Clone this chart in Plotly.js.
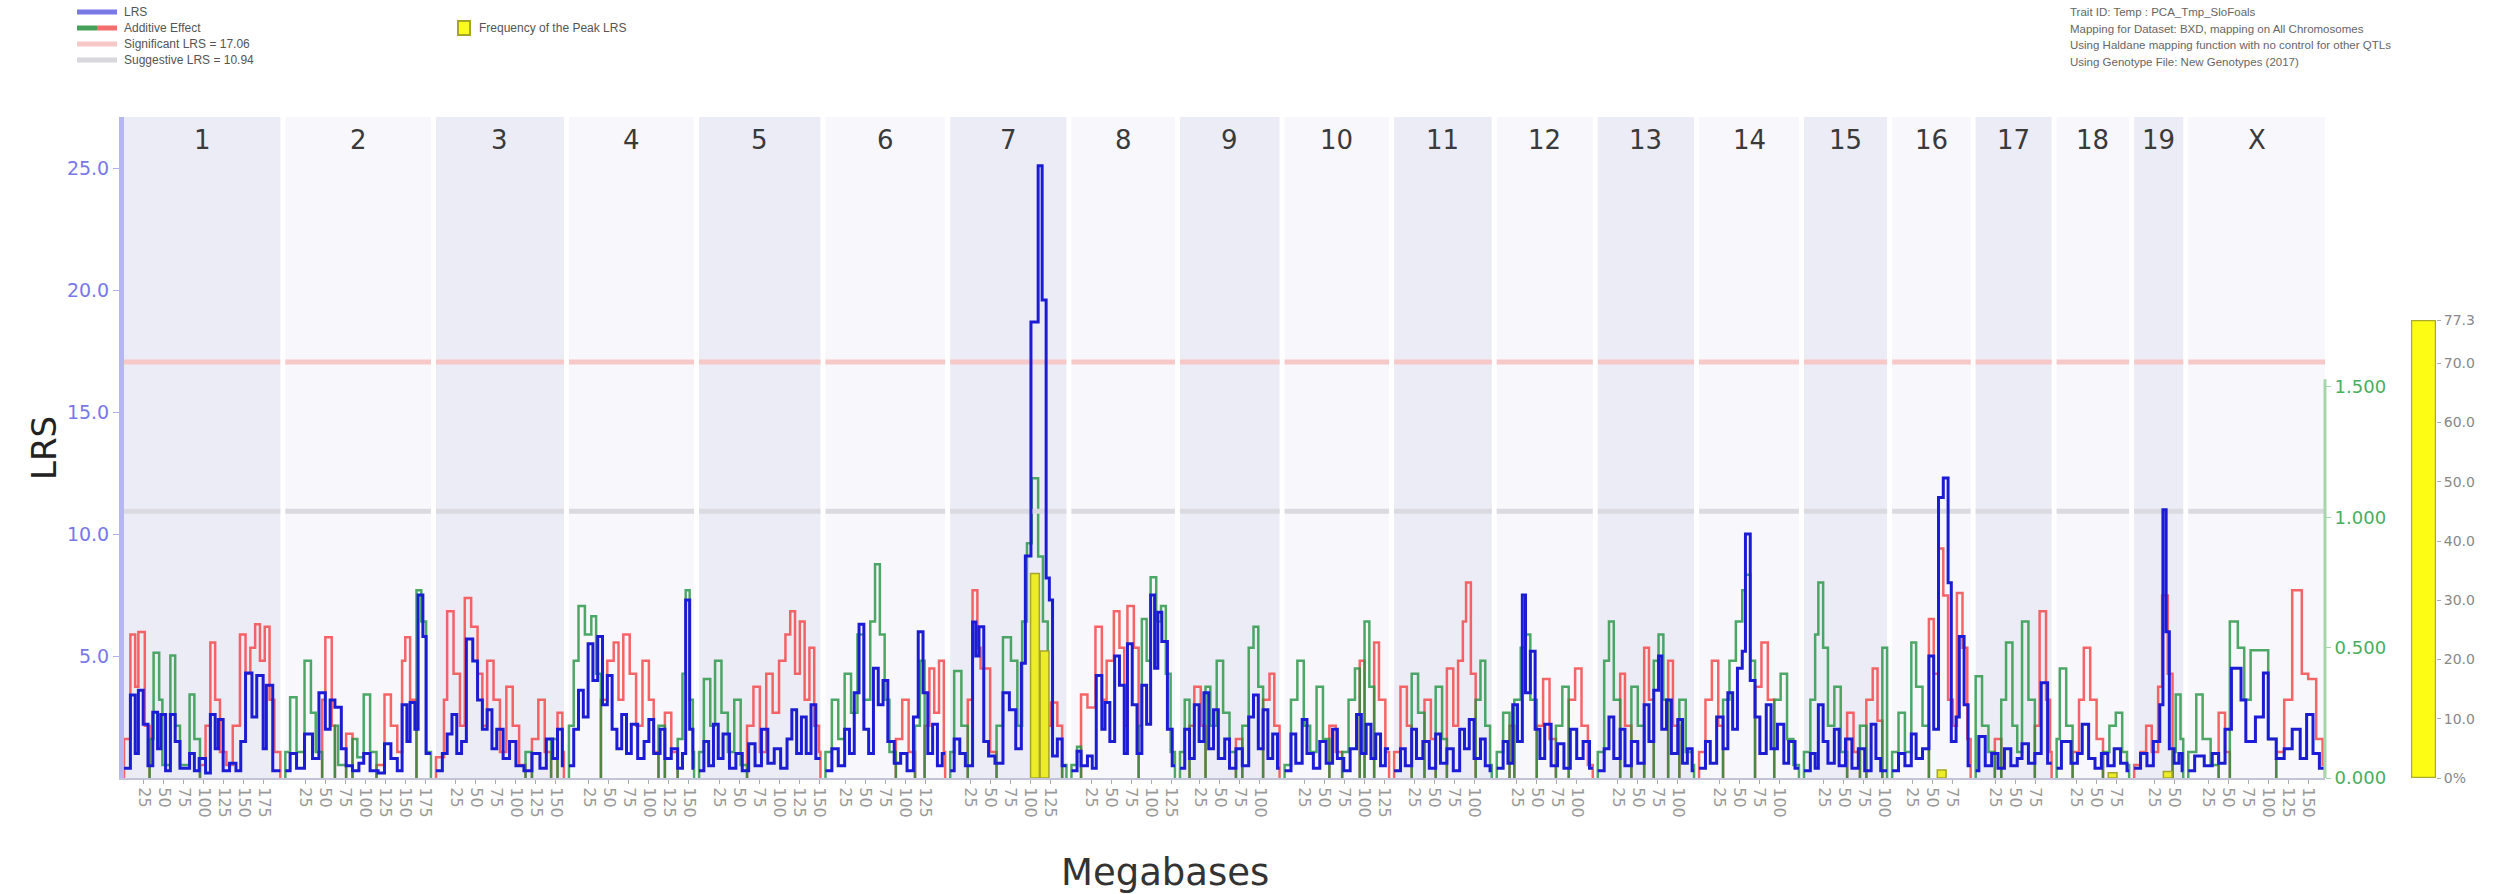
<!DOCTYPE html>
<html>
<head>
<meta charset="utf-8">
<script src="https://cdn.plot.ly/plotly-3.0.1.min.js"></script>
<style>html,body{margin:0;padding:0;background:#fff;}#chart{width:2504px;height:894px;}</style>
</head>
<body>
<div id="chart"></div>
<script>
// ---------------- DATA ----------------
const chromosomes = ['1','2','3','4','5','6','7','8','9','10','11','12','13','14','15','16','17','18','19','X'];
const chrLengthsMb = [195.5,182.1,160.0,156.5,151.8,149.7,145.4,129.4,124.6,130.7,122.1,120.1,120.4,124.9,104.0,98.2,95.0,90.7,61.4,171.0];
const significantLRS = 17.06;
const suggestiveLRS = 10.94;
const lrsTicks = [5, 10, 15, 20, 25];
const additiveTicks = [0, 0.5, 1.0, 1.5];
const freqTicks = [0, 10, 20, 30, 40, 50, 60, 70, 77.3];
const freqTickText = ['0%', '10.0', '20.0', '30.0', '40.0', '50.0', '60.0', '70.0', '77.3'];
const mbTickStep = 25;

// Frequency of the peak LRS (bootstrap), %
const peakFreqChr = ['7', '7', '16', '18', '19'];
const peakFreqMb = [106, 118, 62, 70, 42];
const peakFreqPct = [77.3, 48.0, 3.0, 2.0, 2.5];

// LRS profile per chromosome: [Mb, LRS]
const lrsByChr = [
 [[0,0.4],[8,3.4],[14,1.0],[18,3.6],[24,2.2],[30,0.5],[36,2.7],[42,1.2],[46,2.6],[52,0.3],[58,2.6],[64,1.5],[70,0.4],[82,1.0],[88,0.3],[94,0.8],[102,0.2],[108,2.6],[114,1.2],[118,2.4],[124,0.3],[132,0.6],[140,0.3],[146,1.5],[152,4.3],[160,2.5],[166,4.2],[174,1.2],[178,3.8],[186,0.3]],
 [[0,0.3],[6,1.0],[14,0.4],[24,1.8],[34,0.8],[42,3.5],[50,2.0],[56,3.2],[62,2.9],[70,1.2],[76,0.5],[84,0.3],[92,0.6],[98,1.0],[106,0.3],[116,0.2],[124,1.4],[132,0.8],[140,0.3],[146,3.0],[152,1.5],[156,3.1],[162,2.0],[166,7.5],[172,5.8],[176,1.0]],
 [[0,0.3],[8,1.0],[14,1.8],[20,2.6],[26,1.0],[32,1.5],[38,5.7],[46,4.8],[52,3.2],[58,2.0],[64,2.8],[70,1.2],[76,2.0],[84,0.8],[92,1.5],[100,0.5],[110,0.3],[120,1.0],[130,0.4],[138,1.6],[146,0.8],[152,2.0],[158,0.5]],
 [[0,0.5],[6,2.0],[12,3.6],[18,2.5],[24,5.5],[30,4.0],[36,5.8],[42,3.0],[48,4.2],[54,2.0],[60,1.2],[66,2.6],[72,1.0],[78,2.2],[86,0.8],[94,1.5],[100,2.4],[106,1.0],[114,2.0],[120,0.8],[128,1.2],[136,0.4],[142,1.0],[146,7.3],[151,2.0],[155,0.4]],
 [[0,0.3],[6,1.5],[12,0.5],[18,2.2],[24,0.8],[30,1.8],[38,0.4],[46,1.0],[54,0.3],[62,1.4],[70,0.5],[78,2.0],[86,0.6],[94,1.2],[102,0.4],[110,1.6],[116,2.8],[122,1.0],[128,2.5],[134,1.0],[140,3.0],[146,0.8]],
 [[0,0.3],[8,1.2],[16,0.5],[24,2.0],[30,1.0],[36,3.5],[42,6.3],[48,2.0],[54,1.0],[60,4.5],[66,3.0],[72,4.0],[78,1.5],[86,0.6],[94,1.0],[102,0.3],[110,2.5],[116,6.0],[122,3.5],[128,1.0],[134,2.2],[140,0.5],[146,1.0]],
 [[0,0.3],[5,1.6],[12,1.0],[19,0.5],[28,6.4],[32,5.0],[36,6.2],[42,1.5],[48,0.9],[56,0.6],[66,3.5],[74,2.8],[82,1.2],[89,4.7],[94,9.1],[101,18.7],[110,25.1],[115,19.6],[120,8.2],[124,7.3],[128,0.9],[134,1.6],[140,0.5]],
 [[0,0.3],[7,1.1],[12,0.5],[20,0.9],[26,0.4],[31,4.2],[38,2.0],[42,3.1],[48,1.5],[54,5.0],[60,3.8],[66,1.0],[70,5.5],[76,3.0],[82,1.0],[88,3.8],[94,2.2],[99,7.5],[104,4.5],[108,6.8],[113,5.6],[120,2.0],[126,0.5]],
 [[0,0.4],[6,2.0],[12,0.8],[18,3.0],[24,1.5],[30,3.5],[36,1.2],[42,2.8],[48,0.8],[56,1.6],[62,0.4],[70,1.2],[78,0.5],[86,2.5],[92,3.4],[98,1.2],[104,2.8],[110,0.8],[116,1.8],[122,0.4]],
 [[0,0.3],[8,1.8],[14,0.6],[22,2.4],[28,1.0],[36,0.4],[44,1.5],[52,0.6],[60,2.0],[66,0.8],[74,0.3],[82,1.2],[90,2.6],[96,1.0],[102,2.2],[108,0.8],[114,1.8],[120,0.5],[126,1.2]],
 [[0,0.3],[8,1.2],[14,0.5],[22,2.0],[28,0.8],[36,1.5],[44,0.4],[52,1.8],[58,0.6],[66,1.2],[74,0.3],[82,2.0],[88,1.2],[94,2.4],[100,0.8],[108,1.6],[114,0.5],[120,0.3]],
 [[0,0.4],[8,1.5],[14,0.6],[20,3.0],[26,1.5],[32,7.5],[36,3.5],[42,5.2],[48,2.0],[54,0.8],[60,2.2],[68,0.5],[76,1.4],[84,0.4],[92,2.0],[100,0.8],[108,1.5],[116,0.4]],
 [[0,0.3],[8,1.2],[14,2.5],[20,0.8],[28,2.0],[34,0.5],[42,1.5],[50,0.6],[58,3.0],[64,1.5],[70,3.6],[76,5.0],[80,2.0],[86,3.2],[92,1.0],[100,2.4],[106,0.6],[112,1.2],[118,0.3]],
 [[0,0.4],[8,1.5],[14,0.6],[22,2.5],[30,1.2],[36,3.5],[42,2.0],[48,4.5],[54,5.2],[58,10.0],[64,4.0],[70,2.5],[76,1.0],[84,3.0],[90,1.2],[98,2.2],[106,0.6],[112,1.5],[120,0.4]],
 [[0,0.3],[8,1.0],[14,0.4],[18,3.0],[24,1.5],[30,0.6],[38,2.0],[44,0.5],[52,1.6],[60,0.4],[68,1.2],[76,0.3],[84,2.2],[90,0.8],[96,0.3]],
 [[0,0.3],[8,1.0],[16,0.5],[24,1.8],[30,0.8],[38,1.2],[46,5.0],[52,2.0],[58,11.5],[64,12.3],[70,8.0],[74,1.5],[80,2.5],[84,5.8],[90,3.0],[95,0.5]],
 [[0,0.3],[4,1.7],[12,0.5],[20,1.0],[28,0.4],[36,1.2],[44,0.5],[52,0.8],[58,1.4],[66,0.6],[74,1.0],[82,3.9],[90,0.6]],
 [[0,0.4],[6,1.5],[18,0.6],[26,1.0],[32,2.2],[40,0.8],[48,0.4],[56,1.0],[64,0.5],[72,1.2],[80,0.6],[88,0.3]],
 [[0,0.4],[8,1.0],[16,0.5],[24,1.5],[32,3.0],[36,11.0],[40,6.0],[44,1.2],[50,0.6],[56,1.0],[60,0.3]],
 [[0,0.3],[8,0.9],[20,0.5],[30,1.0],[38,0.6],[46,2.0],[54,4.5],[66,3.2],[72,1.5],[84,2.5],[94,4.3],[100,1.6],[110,0.8],[120,1.2],[130,2.0],[140,0.8],[148,2.6],[156,1.0],[164,0.4]]
];

// Additive effect per chromosome: [Mb, effect] (positive = green, negative = red)
const additiveByChr = [
 [[0,-0.15],[8,-0.55],[14,-0.35],[18,-0.56],[26,-0.2],[32,0.15],[37,0.48],[44,0.3],[48,0.05],[58,0.47],[64,0.2],[70,0.05],[82,0.32],[88,0.15],[95,-0.05],[102,-0.2],[108,-0.52],[114,-0.3],[120,-0.1],[128,-0.05],[136,-0.2],[145,-0.55],[152,-0.4],[158,-0.5],[164,-0.59],[170,-0.45],[176,-0.58],[182,-0.3],[188,-0.1]],
 [[0,0.1],[6,0.31],[14,0.1],[24,0.45],[32,0.25],[38,0.1],[46,-0.3],[50,-0.54],[58,-0.2],[62,0.2],[66,0.05],[76,-0.17],[84,0.15],[90,0.08],[98,0.32],[106,0.1],[114,-0.05],[124,-0.32],[132,-0.2],[140,-0.1],[146,-0.45],[150,-0.54],[156,-0.3],[164,0.72],[170,0.6],[176,0.1]],
 [[0,-0.08],[10,-0.3],[14,-0.64],[22,-0.4],[30,-0.2],[36,-0.69],[44,-0.58],[52,-0.4],[58,-0.2],[64,-0.45],[72,-0.3],[80,-0.1],[88,-0.35],[96,-0.2],[104,-0.05],[112,0.1],[120,-0.15],[128,-0.3],[136,-0.1],[144,0.15],[152,-0.25],[158,-0.1]],
 [[0,0.2],[6,0.45],[12,0.66],[20,0.55],[28,0.62],[34,0.4],[40,-0.3],[48,-0.45],[56,-0.52],[62,-0.3],[68,-0.55],[76,-0.4],[84,-0.2],[92,-0.45],[100,-0.3],[106,-0.1],[112,0.2],[120,-0.25],[128,-0.1],[136,0.15],[142,0.4],[146,0.72],[151,0.3],[155,0.1]],
 [[0,0.1],[6,0.38],[14,0.2],[20,0.45],[28,0.25],[36,0.1],[44,0.3],[52,0.05],[60,-0.2],[68,-0.35],[76,-0.1],[84,-0.4],[92,-0.25],[100,-0.45],[108,-0.55],[114,-0.64],[120,-0.4],[126,-0.6],[132,-0.3],[138,-0.5],[144,-0.2],[150,-0.1]],
 [[0,0.1],[8,0.3],[16,0.15],[24,0.4],[32,0.25],[40,0.55],[48,0.3],[56,0.6],[62,0.82],[68,0.55],[74,0.3],[80,0.1],[88,-0.15],[96,-0.3],[104,-0.1],[112,0.2],[118,0.45],[124,-0.2],[130,-0.42],[136,-0.25],[142,-0.45],[148,-0.1]],
 [[0,0.1],[5,0.41],[14,0.2],[22,-0.3],[28,-0.72],[34,-0.5],[38,-0.42],[50,-0.1],[58,0.2],[66,0.54],[76,0.45],[84,0.2],[90,0.6],[96,0.9],[102,1.15],[110,0.85],[116,0.6],[122,-0.2],[126,-0.29],[134,-0.2],[140,0.05]],
 [[0,0.05],[7,0.12],[12,-0.32],[20,-0.27],[30,-0.58],[38,-0.3],[44,-0.45],[53,-0.64],[60,-0.5],[66,-0.2],[70,-0.66],[78,-0.5],[84,0.2],[88,0.61],[94,0.45],[99,0.77],[106,0.6],[112,0.66],[118,0.4],[124,0.1]],
 [[0,0.1],[6,0.3],[12,-0.2],[18,-0.35],[26,-0.2],[32,0.35],[38,0.2],[46,0.45],[54,0.25],[62,0.1],[70,-0.15],[78,0.2],[86,0.5],[92,0.58],[98,0.35],[104,-0.3],[112,-0.4],[118,-0.2]],
 [[0,0.05],[8,0.3],[16,0.45],[24,0.2],[32,0.1],[40,0.35],[48,0.15],[56,-0.2],[64,-0.1],[72,0.1],[80,0.3],[88,0.42],[94,-0.45],[100,0.6],[106,0.35],[112,-0.52],[118,-0.3],[126,-0.1]],
 [[0,-0.1],[8,-0.35],[16,-0.2],[22,0.4],[30,0.25],[38,-0.3],[46,-0.15],[52,0.35],[60,0.15],[66,-0.42],[74,-0.2],[80,-0.45],[86,-0.6],[90,-0.75],[96,-0.4],[102,0.3],[108,0.45],[114,0.2],[120,0.05]],
 [[0,0.1],[8,0.25],[16,-0.2],[22,0.3],[30,0.5],[36,0.55],[42,0.3],[50,-0.2],[58,-0.38],[66,-0.15],[74,0.2],[82,0.35],[90,-0.3],[98,-0.42],[106,-0.2],[114,-0.05]],
 [[0,0.1],[8,0.45],[14,0.6],[20,0.3],[28,-0.4],[34,-0.2],[42,0.35],[50,0.2],[58,-0.5],[64,-0.3],[70,0.45],[76,0.55],[82,0.3],[88,-0.45],[94,-0.2],[102,0.3],[110,0.1],[118,0.05]],
 [[0,-0.1],[8,-0.3],[16,-0.45],[24,-0.2],[30,0.3],[38,0.45],[46,0.6],[54,0.72],[58,0.78],[64,0.45],[70,-0.35],[78,-0.52],[86,-0.3],[94,0.3],[102,0.4],[110,0.15],[118,0.05]],
 [[0,0.1],[8,0.3],[14,0.55],[18,0.75],[24,0.5],[30,0.2],[38,0.35],[46,0.1],[54,-0.25],[62,-0.1],[70,0.2],[78,-0.3],[86,-0.42],[92,-0.22],[98,0.5]],
 [[0,0.1],[8,0.25],[16,0.1],[24,0.52],[30,0.35],[38,0.2],[46,-0.61],[52,-0.4],[58,-0.88],[64,-0.7],[70,-0.3],[76,-0.2],[81,-0.71],[88,-0.5],[94,-0.15]],
 [[0,0.39],[8,0.2],[16,0.1],[24,-0.15],[32,0.3],[38,0.52],[46,0.2],[52,0.1],[58,0.6],[66,0.3],[74,-0.2],[80,-0.64],[88,-0.3],[93,-0.1]],
 [[0,0.15],[4,0.42],[12,0.2],[20,-0.1],[28,-0.3],[34,-0.5],[42,-0.3],[50,-0.15],[58,0.1],[66,0.2],[74,0.25],[82,0.1],[88,0.05]],
 [[0,-0.05],[8,-0.1],[15,-0.2],[22,-0.1],[30,-0.35],[35,-0.7],[42,-0.4],[48,0.1],[52,0.32],[58,0.15]],
 [[0,0.1],[10,0.32],[18,0.15],[28,0.05],[38,-0.25],[46,-0.1],[52,0.6],[62,0.5],[70,0.3],[78,0.49],[100,0.15],[110,-0.1],[120,-0.3],[130,-0.72],[142,-0.4],[150,-0.38],[160,-0.15],[168,-0.05]]
];

const infoLines = [
  'Trait ID: Temp : PCA_Tmp_SloFoals',
  'Mapping for Dataset: BXD, mapping on All Chromosomes',
  'Using Haldane mapping function with no control for other QTLs',
  'Using Genotype File: New Genotypes (2017)'
];

// ---------------- LAYOUT GEOMETRY ----------------
const W = 2504, H = 894;
const M = {l: 124, r: 34, t: 117, b: 116};
const paperW = W - M.l - M.r, paperH = H - M.t - M.b;
const px2x = px => (px - M.l) / paperW;
const py2y = py => (H - M.b - py) / paperH;
const mainRightPx = 2325;
const gapMb = 6.25;

const offsets = [];
let acc = 0;
chrLengthsMb.forEach((len, i) => { offsets.push(acc); acc += len + (i < chrLengthsMb.length - 1 ? gapMb : 0); });
const totalMb = acc;

// ---------------- TRACES ----------------
const lx = [], ly = [];
lrsByChr.forEach((prof, c) => {
  const off = offsets[c], len = chrLengthsMb[c];
  prof.forEach(([mb, v], i) => {
    const next = i + 1 < prof.length ? prof[i + 1][0] : len;
    lx.push(off + mb, off + next); ly.push(v, v);
  });
  lx.push(null); ly.push(null);
});

const gx = [], gy = [], rx = [], ry = [];
additiveByChr.forEach((prof, c) => {
  const off = offsets[c], len = chrLengthsMb[c];
  let prev = null;
  prof.forEach(([mb, v], i) => {
    const next = i + 1 < prof.length ? prof[i + 1][0] : len;
    const s = v >= 0 ? 1 : -1;
    const X = s > 0 ? gx : rx, Y = s > 0 ? gy : ry;
    if (s !== prev) {
      if (prev !== null) {
        const PX = prev > 0 ? gx : rx, PY = prev > 0 ? gy : ry;
        PX.push(off + mb, null); PY.push(0, null);
      }
      X.push(off + mb); Y.push(0);
    }
    X.push(off + mb, off + next); Y.push(Math.abs(v), Math.abs(v));
    prev = s;
  });
  const PX = prev > 0 ? gx : rx, PY = prev > 0 ? gy : ry;
  PX.push(off + len, null); PY.push(0, null);
});

function thresholdLine(val) {
  const x = [], y = [];
  chrLengthsMb.forEach((len, c) => { x.push(offsets[c], offsets[c] + len, null); y.push(val, val, null); });
  return {x, y};
}
const sig = thresholdLine(significantLRS), sug = thresholdLine(suggestiveLRS);

const freqX = peakFreqChr.map((ch, i) => offsets[chromosomes.indexOf(ch)] + peakFreqMb[i]);

const traces = [
  {x: rx, y: ry, type: 'scatter', mode: 'lines', xaxis: 'x', yaxis: 'y', line: {color: 'rgba(245,60,60,0.78)', width: 2.5}, hoverinfo: 'skip'},
  {x: gx, y: gy, type: 'scatter', mode: 'lines', xaxis: 'x', yaxis: 'y', line: {color: 'rgba(30,145,60,0.78)', width: 2.5}, hoverinfo: 'skip'},
  {x: sug.x, y: sug.y, type: 'scatter', mode: 'lines', xaxis: 'x', yaxis: 'y2', line: {color: 'rgb(218,218,224)', width: 5}, hoverinfo: 'skip'},
  {x: sig.x, y: sig.y, type: 'scatter', mode: 'lines', xaxis: 'x', yaxis: 'y2', line: {color: 'rgb(247,200,200)', width: 5}, hoverinfo: 'skip'},
  {x: lx, y: ly, type: 'scatter', mode: 'lines', xaxis: 'x', yaxis: 'y2', line: {color: 'rgb(28,28,212)', width: 3}, hoverinfo: 'skip'},
  {x: freqX, y: peakFreqPct, type: 'bar', xaxis: 'x', yaxis: 'y3', width: 11, marker: {color: 'rgb(236,236,40)', line: {color: 'rgb(165,165,40)', width: 1.5}}, hoverinfo: 'skip'},
  {x: [0], y: [Math.max(...peakFreqPct)], type: 'bar', xaxis: 'x4', yaxis: 'y4', width: 1, marker: {color: 'rgb(252,252,20)', line: {color: 'rgb(170,170,45)', width: 2.5}}, hoverinfo: 'skip'}
];

// ---------------- TICKS ----------------
const xTickVals = [], xTickText = [];
chrLengthsMb.forEach((len, c) => {
  for (let mb = mbTickStep; mb < len; mb += mbTickStep) { xTickVals.push(offsets[c] + mb); xTickText.push(String(mb)); }
});

// ---------------- SHAPES / ANNOTATIONS ----------------
const shapes = [];
chrLengthsMb.forEach((len, c) => {
  shapes.push({type: 'rect', xref: 'x', yref: 'paper', x0: offsets[c], x1: offsets[c] + len, y0: 0, y1: 1,
    fillcolor: c % 2 === 0 ? 'rgb(236,236,246)' : 'rgb(247,247,252)', line: {width: 0}, layer: 'below'});
});
const mainDomainEnd = px2x(mainRightPx);
shapes.push({type: 'line', xref: 'paper', yref: 'y', x0: mainDomainEnd, x1: mainDomainEnd, y0: 0, y1: 1.53,
  line: {color: 'rgb(165,215,170)', width: 3}});

const annotations = [];
chromosomes.forEach((ch, c) => {
  annotations.push({xref: 'x', yref: 'paper', x: offsets[c] + chrLengthsMb[c] / 2, y: py2y(140), text: ch, showarrow: false,
    font: {family: 'DejaVu Sans', size: 26, color: '#3a3a3a'}, xanchor: 'center', yanchor: 'middle'});
});

const legRows = [12, 28, 44, 60];
const legItems = [
  {label: 'LRS', colors: ['rgb(120,120,230)']},
  {label: 'Additive Effect', colors: ['rgb(70,160,90)', 'rgb(240,110,110)']},
  {label: 'Significant LRS = ' + significantLRS.toFixed(2), colors: ['rgb(247,200,200)']},
  {label: 'Suggestive LRS = ' + suggestiveLRS.toFixed(2), colors: ['rgb(215,215,220)']}
];
legItems.forEach((it, i) => {
  const y = py2y(legRows[i]);
  const x0 = 77, x1 = 117, n = it.colors.length;
  it.colors.forEach((col, k) => {
    shapes.push({type: 'line', xref: 'paper', yref: 'paper', x0: px2x(x0 + (x1 - x0) * k / n), x1: px2x(x0 + (x1 - x0) * (k + 1) / n), y0: y, y1: y,
      line: {color: col, width: 5}});
  });
  annotations.push({xref: 'paper', yref: 'paper', x: px2x(122), y: y, text: it.label, showarrow: false, xanchor: 'left', yanchor: 'middle',
    font: {family: 'Liberation Sans', size: 12, color: '#555'}});
});
shapes.push({type: 'rect', xref: 'paper', yref: 'paper', x0: px2x(458), x1: px2x(470), y0: py2y(35), y1: py2y(21),
  fillcolor: 'rgb(250,250,30)', line: {color: 'rgb(165,165,40)', width: 2}});
annotations.push({xref: 'paper', yref: 'paper', x: px2x(477), y: py2y(28), text: 'Frequency of the Peak LRS', showarrow: false,
  xanchor: 'left', yanchor: 'middle', font: {family: 'Liberation Sans', size: 12, color: '#555'}});

infoLines.forEach((t, i) => {
  annotations.push({xref: 'paper', yref: 'paper', x: px2x(2068), y: py2y(12 + 16.5 * i), text: t, showarrow: false,
    xanchor: 'left', yanchor: 'middle', font: {family: 'Liberation Sans', size: 11.5, color: '#666'}});
});

annotations.push({xref: 'paper', yref: 'paper', x: px2x(44), y: py2y(448), text: 'LRS', showarrow: false, textangle: -90,
  xanchor: 'center', yanchor: 'middle', font: {family: 'DejaVu Sans', size: 34, color: '#222'}});
annotations.push({xref: 'paper', yref: 'paper', x: px2x(1165), y: py2y(872), text: 'Megabases', showarrow: false,
  xanchor: 'center', yanchor: 'middle', font: {family: 'DejaVu Sans', size: 37, color: '#333'}});

const layout = {
  width: W, height: H, margin: M,
  paper_bgcolor: '#ffffff', plot_bgcolor: 'rgba(0,0,0,0)',
  showlegend: false, hovermode: false,
  font: {family: 'DejaVu Sans'},
  xaxis: {domain: [0, mainDomainEnd], range: [0, totalMb], anchor: 'y',
    tickmode: 'array', tickvals: xTickVals, ticktext: xTickText, tickangle: 90,
    tickfont: {family: 'DejaVu Sans', size: 16, color: '#999'}, ticks: 'outside', ticklen: 4, tickcolor: '#aaa',
    showgrid: false, zeroline: false, showline: true, linecolor: 'rgb(195,195,215)', linewidth: 2, fixedrange: true},
  yaxis: {side: 'right', anchor: 'x', range: [0, paperH / 260.7],
    tickmode: 'array', tickvals: additiveTicks, tickformat: '.3f',
    tickfont: {family: 'DejaVu Sans', size: 18, color: 'rgb(70,175,95)'}, ticks: 'outside', ticklen: 5, tickcolor: 'rgb(165,215,170)',
    showgrid: false, zeroline: false, showline: false, fixedrange: true},
  yaxis2: {overlaying: 'y', side: 'left', anchor: 'x', range: [0, 27.1],
    tickmode: 'array', tickvals: lrsTicks, tickformat: '.1f',
    tickfont: {family: 'DejaVu Sans', size: 19, color: 'rgb(120,120,235)'}, ticks: 'outside', ticklen: 6, tickcolor: 'rgb(175,175,238)',
    showgrid: false, zeroline: false, showline: true, linecolor: 'rgb(182,182,240)', linewidth: 5, fixedrange: true},
  yaxis3: {overlaying: 'y', anchor: 'x', range: [0, 250], visible: false, fixedrange: true},
  xaxis4: {domain: [px2x(2411), px2x(2436)], range: [-0.5, 0.5], anchor: 'y4', visible: false, fixedrange: true},
  yaxis4: {domain: [0, py2y(320)], anchor: 'x4', side: 'right', range: [0, Math.max(...peakFreqPct)],
    tickmode: 'array', tickvals: freqTicks, ticktext: freqTickText,
    tickfont: {family: 'DejaVu Sans', size: 14, color: '#888'}, ticks: 'outside', ticklen: 4, tickcolor: '#aaa',
    showgrid: false, zeroline: false, showline: false, fixedrange: true},
  shapes: shapes,
  annotations: annotations
};

Plotly.newPlot('chart', traces, layout, {staticPlot: true, displayModeBar: false});
</script>
</body>
</html>
